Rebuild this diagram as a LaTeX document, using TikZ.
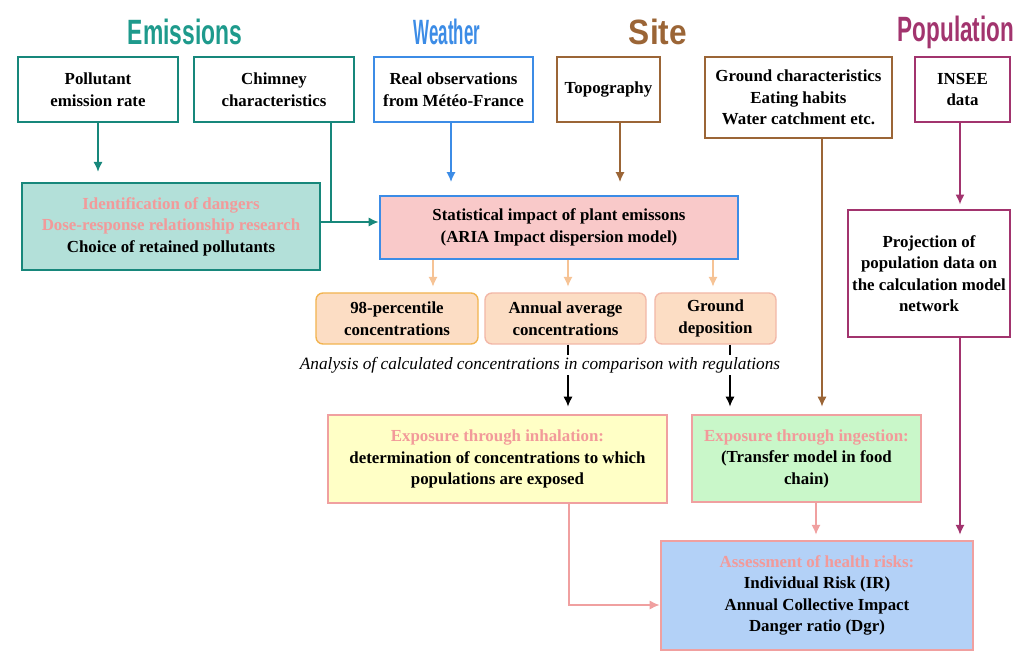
\documentclass[tikz,border=0pt]{standalone}
\usepackage{fontspec}
\setmainfont{Liberation Serif}
\newfontfamily\titlefont{Liberation Sans}
\usepackage{xcolor}
\usepackage{graphicx}
\usepackage{tikz}
\usetikzlibrary{arrows.meta}
\usetikzlibrary{calc}

\definecolor{emteal}{HTML}{1E9A8C}
\definecolor{tealline}{HTML}{17877B}
\definecolor{tealfill}{HTML}{B3E0D9}
\definecolor{wblue}{HTML}{3C8CE6}
\definecolor{sbrown}{HTML}{9B6536}
\definecolor{ppurple}{HTML}{A2346E}
\definecolor{pinktext}{HTML}{F29A9A}
\definecolor{pinkline}{HTML}{F0A0A0}
\definecolor{statfill}{HTML}{F9C9C9}
\definecolor{peachfill}{HTML}{FCDDC4}
\definecolor{percline}{HTML}{F2B450}
\definecolor{peachline}{HTML}{F2B8A8}
\definecolor{peacharrow}{HTML}{F6C395}
\definecolor{inhalfill}{HTML}{FFFFC6}
\definecolor{ingesfill}{HTML}{C9F7C9}
\definecolor{assessfill}{HTML}{B3D1F7}

\begin{document}
\begin{tikzpicture}[x=0.025cm,y=-0.025cm,
  box/.style={draw, line width=2pt, fill=white, align=center, inner sep=2pt,
    font=\bfseries\fontsize{12}{15.3}\selectfont},
  small/.style={box, rounded corners=5pt, fill=peachfill, line width=1pt},
  title/.style={inner sep=0pt, font=\titlefont\bfseries\fontsize{25}{25}\selectfont},
  link/.style={line width=1pt, -{Latex[length=7pt,width=6.5pt]}}]
\useasboundingbox (0,0) rectangle (1015,652);

% titles
\node[title, text=emteal] (temis) at (185,32) {\scalebox{0.65}[1]{Emissions}};
\node[title, text=wblue] (tweat) at (447,32) {\scalebox{0.48}[1]{Weather}};
\node[title, text=sbrown] (tsite) at (658,32) {\scalebox{0.9}[1]{Site}};
\node[title, text=ppurple] (tpop) at (956,32) {\scalebox{0.64}[1]{Population}};

% input boxes
\node[box, draw=tealline, minimum width=4cm, minimum height=1.625cm] (pollut) at (98,89.5) {Pollutant\\emission rate};
\node[box, draw=tealline, minimum width=4cm, minimum height=1.625cm] (chimney) at (274,89.5) {Chimney\\characteristics};
\node[box, draw=wblue, minimum width=3.975cm, minimum height=1.625cm] (meteo) at (453.5,89.5) {Real observations\\from Météo-France};
\node[box, draw=sbrown, minimum width=2.575cm, minimum height=1.625cm] (topo) at (608.5,89.5) {Topography};
\node[box, draw=sbrown, minimum width=4.675cm, minimum height=2.025cm] (ground) at (798.5,97.5) {Ground characteristics\\Eating habits\\Water catchment etc.};
\node[box, draw=ppurple, minimum width=2.375cm, minimum height=1.625cm] (insee) at (962.5,89.5) {INSEE\\data};

% second row
\node[box, draw=tealline, fill=tealfill, minimum width=7.45cm, minimum height=2.175cm] (ident) at (171,226.5)
  {{\color{pinktext}Identification of dangers}\\{\color{pinktext}Dose-response relationship research}\\Choice of retained pollutants};
\node[box, draw=wblue, fill=statfill, minimum width=8.95cm, minimum height=1.575cm] (stat) at (559,227.5)
  {Statistical impact of plant emissons\\(ARIA Impact dispersion model)};
\node[box, draw=ppurple, minimum width=4.05cm, minimum height=3.175cm] (proj) at (929,273.5)
  {Projection of\\population data on\\the calculation model\\network};

% concentrations
\node[small, draw=percline, minimum width=4.05cm, minimum height=1.275cm] (perc) at (397,318.5) {98-percentile\\concentrations};
\node[small, draw=peachline, minimum width=4.025cm, minimum height=1.275cm] (annual) at (565.5,318.5) {Annual average\\concentrations};
\node[small, draw=peachline, minimum width=3.025cm, minimum height=1.275cm] (depo) at (715.5,318.5) {Ground\\deposition};

% exposure
\node[box, draw=pinkline, fill=inhalfill, minimum width=8.475cm, minimum height=2.2cm] (inhal) at (497.5,459)
  {{\color{pinktext}Exposure through inhalation:}\\determination of concentrations to which\\populations are exposed};
\node[box, draw=pinkline, fill=ingesfill, minimum width=5.725cm, minimum height=2.175cm] (inges) at (806.5,458.5)
  {{\color{pinktext}Exposure through ingestion:}\\(Transfer model in food\\chain)};
\node[box, draw=pinkline, fill=assessfill, minimum width=7.8cm, minimum height=2.725cm] (assess) at (817,595.5)
  {{\color{pinktext}Assessment of health risks:}\\Individual Risk (IR)\\Annual Collective Impact\\Danger ratio (Dgr)};

% arrow columns
\coordinate (cchim) at (331,222);
\coordinate (cmet) at (451,0);
\coordinate (ctopo) at (620,0);
\coordinate (cperc) at (433,0);
\coordinate (cann) at (568,0);
\coordinate (cdep) at (713,0);
\coordinate (cdep2) at (730,0);
\coordinate (cgr) at (822,0);
\coordinate (cpop) at (960,0);
\coordinate (cing) at (816,0);
\coordinate (cinh) at (569,605);

\draw[link, color=tealline, shorten >=7pt] (pollut.south) -- (pollut.south |- ident.north);
\draw[line width=1pt, color=tealline] (chimney.south -| cchim) -- (cchim);
\draw[link, color=tealline] (ident.east |- cchim) -- (stat.west |- cchim);
\draw[link, color=wblue, shorten >=9pt] (meteo.south -| cmet) -- (stat.north -| cmet);
\draw[link, color=sbrown, shorten >=9pt] (topo.south -| ctopo) -- (stat.north -| ctopo);
\draw[link, color=ppurple, shorten >=3pt] (insee.south -| cpop) -- (proj.north -| cpop);

\draw[link, color=peacharrow, shorten >=4pt] (stat.south -| cperc) -- (perc.north -| cperc);
\draw[link, color=peacharrow, shorten >=4pt] (stat.south -| cann) -- (annual.north -| cann);
\draw[link, color=peacharrow, shorten >=4pt] (stat.south -| cdep) -- (depo.north -| cdep);

\draw[link, color=black, shorten >=5pt] (annual.south -| cann) -- (inhal.north -| cann);
\draw[link, color=black, shorten >=5pt] (depo.south -| cdep2) -- (inges.north -| cdep2);
\draw[link, color=sbrown, shorten >=5pt] (ground.south -| cgr) -- (inges.north -| cgr);

\node[fill=white, inner sep=1.5pt, font=\itshape\fontsize{12.3}{13}\selectfont] (analysis) at (540,365)
  {Analysis of calculated concentrations in comparison with regulations};

\draw[link, color=pinkline] (inhal.south -| cinh) -- (cinh) -- (assess.west |- cinh);
\draw[link, color=pinkline, shorten >=3.5pt] (inges.south -| cing) -- (assess.north -| cing);
\draw[link, color=ppurple, shorten >=3.5pt] (proj.south -| cpop) -- (assess.north -| cpop);
\end{tikzpicture}
\end{document}
